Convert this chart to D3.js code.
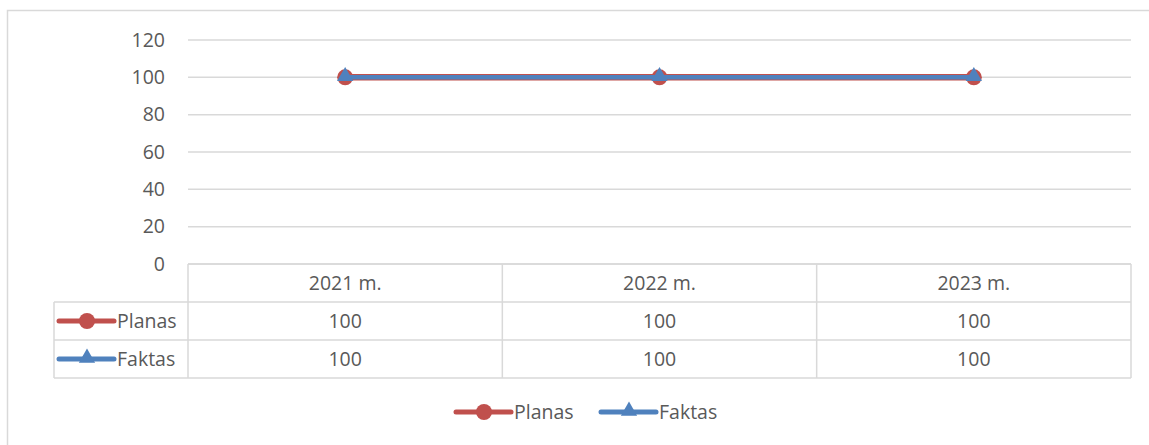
<!DOCTYPE html>
<html>
<head>
<meta charset="utf-8">
<script src="https://cdn.jsdelivr.net/npm/d3@7"></script>
<style>
  body { margin: 0; background: #fff; }
  text { font-family: "Open Sans", "Noto Sans", sans-serif; fill: #595959; }
</style>
</head>
<body>
<div id="chart"></div>
<script>
// data
var years = ["2021 m.", "2022 m.", "2023 m."];
var planas = [100, 100, 100];
var faktas = [100, 100, 100];
var yTicks = [0, 20, 40, 60, 80, 100, 120];

var W = 1149, H = 445;
var red = "#c0504d", blue = "#4f81bd", grid = "#d9d9d9";
var FONT = 19.5;

var svg = d3.select("#chart").append("svg")
    .attr("width", W).attr("height", H);

// chart frame (only top and left edges visible)
svg.append("path")
    .attr("d", "M7.5," + H + "V10.5H" + W)
    .attr("fill", "none").attr("stroke", grid).attr("stroke-width", 1.5);

var plotLeft = 188, plotRight = 1131, plotTop = 40, plotBottom = 264;
var rowH = 38;

var x = d3.scaleBand().domain(years).range([plotLeft, plotRight]);
var y = d3.scaleLinear().domain([0, 120]).range([plotBottom, plotTop]);

// gridlines
svg.append("g").selectAll("line").data(yTicks).join("line")
    .attr("x1", plotLeft).attr("x2", plotRight)
    .attr("y1", function(d) { return y(d); }).attr("y2", function(d) { return y(d); })
    .attr("stroke", grid).attr("stroke-width", 1.5);

// y axis labels
var yAxis = d3.axisLeft(y).tickValues(yTicks).tickSize(0).tickPadding(23);
var ya = svg.append("g").attr("transform", "translate(" + plotLeft + ",0)").call(yAxis);
ya.select(".domain").remove();
ya.selectAll("text").attr("font-size", FONT).attr("font-family", null).attr("fill", "#595959");

// data table
var tableLeft = 54;
var rows = [plotBottom, plotBottom + rowH, plotBottom + 2 * rowH, plotBottom + 3 * rowH];
var tg = svg.append("g").attr("stroke", grid).attr("stroke-width", 1.5);
// horizontal lines
tg.append("line").attr("x1", plotLeft).attr("x2", plotRight).attr("y1", rows[0]).attr("y2", rows[0]);
[1, 2, 3].forEach(function(i) {
  tg.append("line").attr("x1", tableLeft).attr("x2", plotRight).attr("y1", rows[i]).attr("y2", rows[i]);
});
// vertical lines
tg.append("line").attr("x1", tableLeft).attr("x2", tableLeft).attr("y1", rows[1]).attr("y2", rows[3]);
years.forEach(function(d) {
  tg.append("line").attr("x1", x(d)).attr("x2", x(d)).attr("y1", rows[0]).attr("y2", rows[3]);
});
tg.append("line").attr("x1", plotRight).attr("x2", plotRight).attr("y1", rows[0]).attr("y2", rows[3]);

// header
svg.append("g").selectAll("text").data(years).join("text")
    .attr("x", function(d) { return x(d) + x.bandwidth() / 2; })
    .attr("y", rows[0] + rowH / 2)
    .attr("dy", "0.35em").attr("text-anchor", "middle").attr("font-size", FONT)
    .text(function(d) { return d; });

var series = [
  { name: "Planas", values: planas, color: red, marker: "circle", width: 6.5 },
  { name: "Faktas", values: faktas, color: blue, marker: "triangle", width: 4.5 }
];

function drawMarker(g, s, cx, cy) {
  if (s.marker === "circle") {
    g.append("circle").attr("cx", cx).attr("cy", cy).attr("r", 8).attr("fill", s.color);
  } else {
    g.append("path")
      .attr("d", d3.symbol().type(d3.symbolTriangle).size(115)())
      .attr("transform", "translate(" + cx + "," + (cy - 1) + ")")
      .attr("fill", s.color);
  }
}

function legendKey(g, s, x0, cy) {
  g.append("line").attr("x1", x0).attr("x2", x0 + 55).attr("y1", cy).attr("y2", cy)
    .attr("stroke", s.color).attr("stroke-width", 5).attr("stroke-linecap", "round");
  drawMarker(g, s, x0 + 28, cy);
  g.append("text").attr("x", x0 + 58).attr("y", cy).attr("dy", "0.35em")
    .attr("font-size", FONT).text(s.name);
}

series.forEach(function(s, i) {
  var cy = rows[i + 1] + rowH / 2;
  var rg = svg.append("g");
  legendKey(rg, s, 59, cy);
  rg.selectAll("text.v").data(s.values).join("text").attr("class", "v")
    .attr("x", function(d, j) { return x(years[j]) + x.bandwidth() / 2; })
    .attr("y", cy).attr("dy", "0.35em").attr("text-anchor", "middle").attr("font-size", FONT)
    .text(function(d) { return d; });
});

// lines + markers
var line = d3.line()
    .x(function(d, j) { return x(years[j]) + x.bandwidth() / 2; })
    .y(function(d) { return y(d); });

series.forEach(function(s) {
  var g = svg.append("g");
  g.append("path").datum(s.values).attr("d", line)
    .attr("fill", "none").attr("stroke", s.color).attr("stroke-width", s.width)
    .attr("stroke-linejoin", "round");
  s.values.forEach(function(v, j) {
    drawMarker(g, s, x(years[j]) + x.bandwidth() / 2, y(v));
  });
});

// bottom legend
var lg = svg.append("g");
legendKey(lg, series[0], 456, 412);
legendKey(lg, series[1], 601, 412);
</script>
</body>
</html>
